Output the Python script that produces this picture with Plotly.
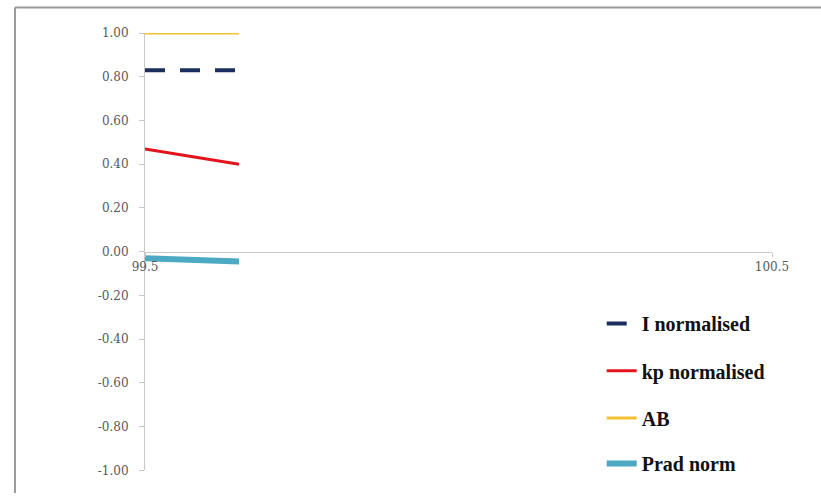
import plotly.graph_objects as go

x_vals = [99.5, 99.65]
i_norm = [0.83, 0.83]
kp_norm = [0.47, 0.40]
ab_vals = [1.0, 1.0]
prad_norm = [-0.03, -0.045]
names = ["I normalised", "kp normalised", "AB", "Prad norm"]
y_ticks = [-1.0, -0.8, -0.6, -0.4, -0.2, 0.0, 0.2, 0.4, 0.6, 0.8, 1.0]
y_tick_text = ["-1.00", "-0.80", "-0.60", "-0.40", "-0.20", "0.00", "0.20", "0.40", "0.60", "0.80", "1.00"]
x_ticks = [99.5, 100.5]
x_tick_text = ["99.5", "100.5"]

fig = go.Figure()
fig.add_trace(go.Scatter(x=x_vals, y=i_norm, mode="lines", name=names[0], legend="legend",
                         line=dict(color="#1B2F5E", width=4, dash="20px,15px")))
fig.add_trace(go.Scatter(x=x_vals, y=kp_norm, mode="lines", name=names[1], legend="legend2",
                         line=dict(color="#E3141C", width=3)))
fig.add_trace(go.Scatter(x=x_vals, y=ab_vals, mode="lines", name=names[2], legend="legend3",
                         line=dict(color="#F2C232", width=3)))
fig.add_trace(go.Scatter(x=x_vals, y=prad_norm, mode="lines", name=names[3], legend="legend4",
                         line=dict(color="#4BA9C3", width=6)))

tick_font = dict(family="DejaVu Serif", size=12, color="#595959")
leg_font = dict(family="Liberation Serif", size=20, color="#111111", weight="bold")

H = 497.0
PAPER_H = H - 33.0  # margin b = 0


def py(px):
    return (H - px) / PAPER_H


def leg(px):
    return dict(x=0.7284, y=py(px), xanchor="left", yanchor="middle",
                font=leg_font, bgcolor="rgba(0,0,0,0)")


fig.update_layout(
    width=821, height=497,
    margin=dict(l=145, r=49, t=33, b=0),
    paper_bgcolor="white", plot_bgcolor="white",
    font=tick_font,
    showlegend=True,
    legend=leg(328),
    legend2=leg(376),
    legend3=leg(424),
    legend4=leg(470),
    xaxis=dict(range=[99.5, 100.5], tickvals=x_ticks, ticktext=x_tick_text,
               showgrid=False, zeroline=False, showline=True, linecolor="#C8C8C8",
               anchor="free", position=py(255), ticks="outside", ticklen=4, tickcolor="#C8C8C8",
               tickfont=tick_font),
    yaxis=dict(range=[-1.0, 1.0], tickvals=y_ticks, ticktext=y_tick_text, domain=[py(477), 1.0],
               showgrid=False, zeroline=False, showline=True, linecolor="#C8C8C8",
               ticks="outside", ticklen=5, tickcolor="#C8C8C8", ticklabelstandoff=8,
               tickfont=tick_font),
)

fig.add_shape(type="line", xref="paper", yref="paper", x0=-0.2073, x1=1.1, y0=py(7), y1=py(7),
              line=dict(color="#9A9A9A", width=2))
fig.add_shape(type="line", xref="paper", yref="paper", x0=-0.2073, x1=-0.2073, y0=py(7), y1=py(500),
              line=dict(color="#9A9A9A", width=2))

fig.write_html("out.html", config={"displayModeBar": False},
               post_script="document.body.style.margin='0';document.body.style.overflow='hidden';")
